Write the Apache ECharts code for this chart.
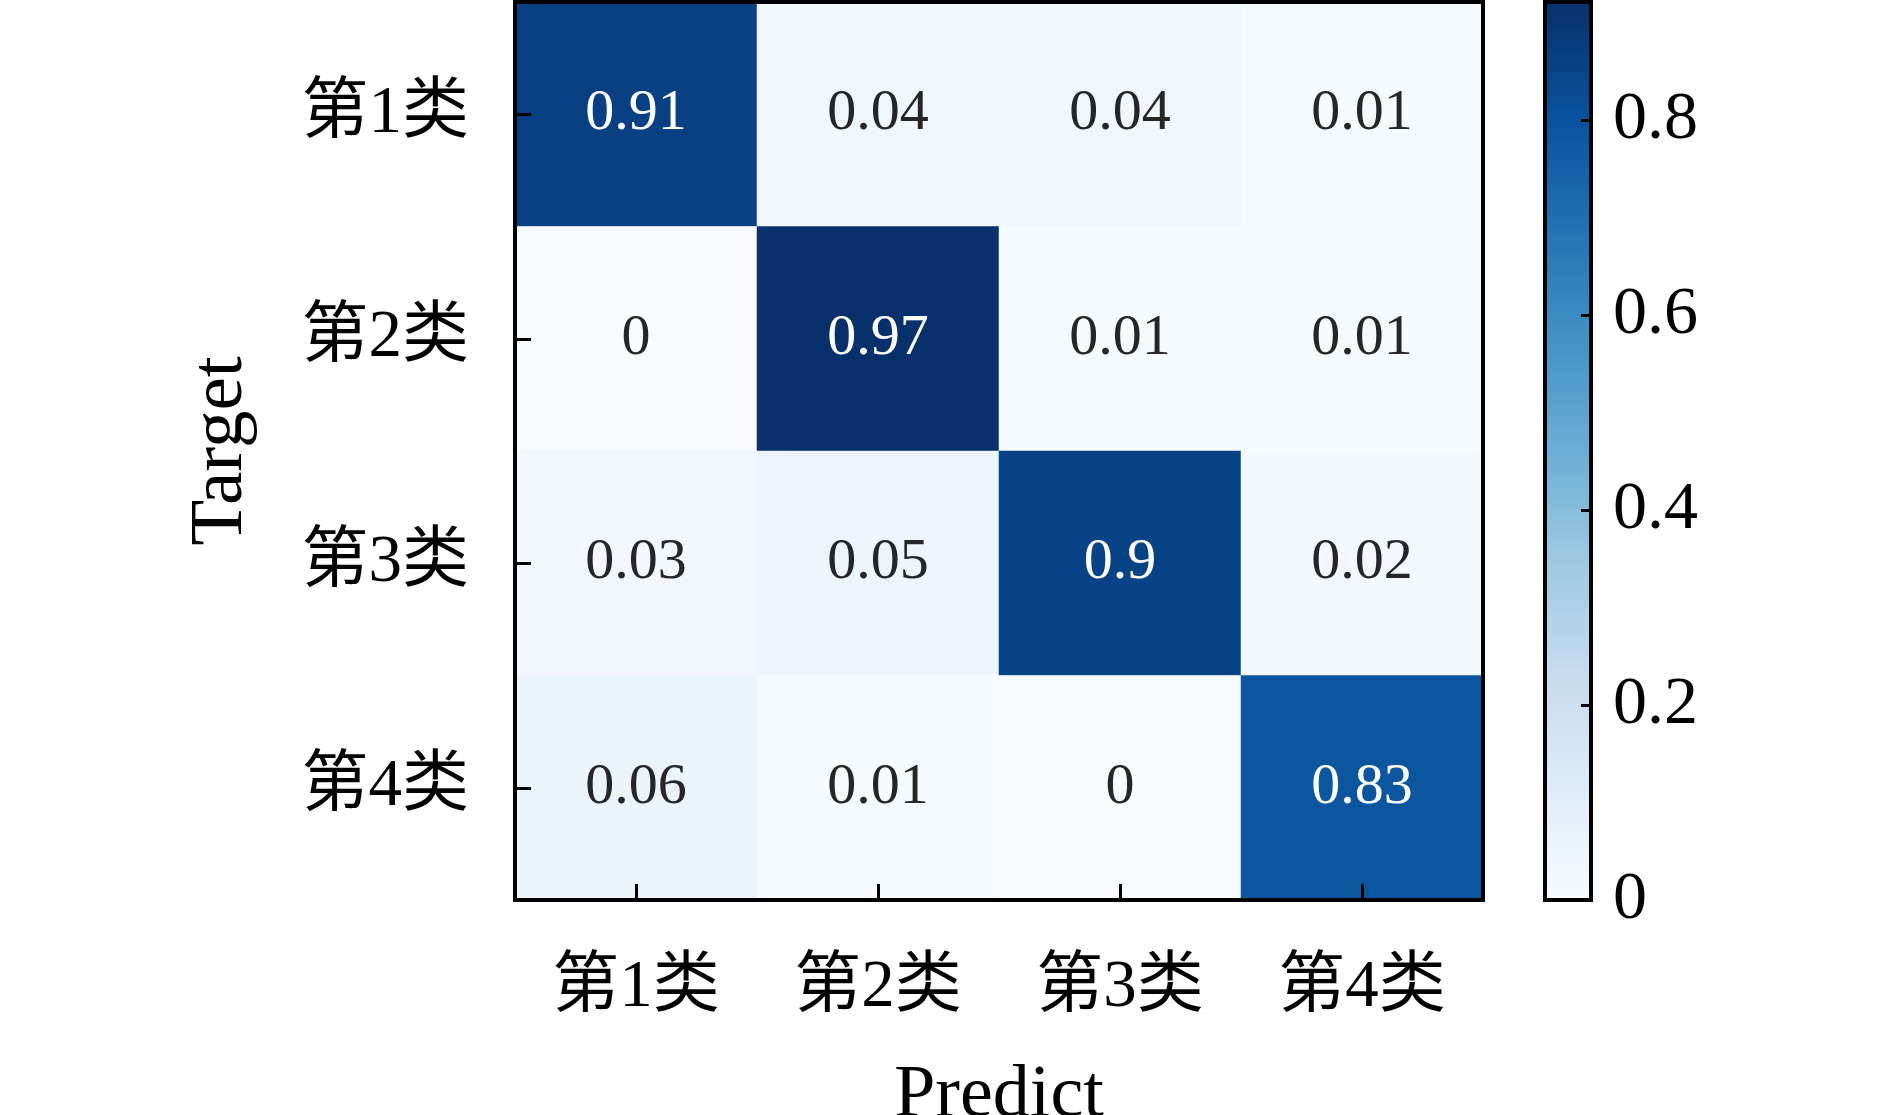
<!DOCTYPE html>
<html>
<head>
<meta charset="utf-8">
<title>混淆矩阵</title>
<script src="https://cdn.jsdelivr.net/npm/echarts@6/dist/echarts.min.js"></script>
<style>
  html, body { margin: 0; padding: 0; background: #fff; }
  #chart { width: 1890px; height: 1115px; }
</style>
</head>
<body>
<div id="chart"></div>
<script>
// 类别
const predictLabels = ['第1类', '第2类', '第3类', '第4类']
const targetLabels = ['第1类', '第2类', '第3类', '第4类']
// 每一行是一个 Target，每一列是一个 Predict
const matrix = [
  [0.91, 0.04, 0.04, 0.01],
  [0, 0.97, 0.01, 0.01],
  [0.03, 0.05, 0.9, 0.02],
  [0.06, 0.01, 0, 0.83]
]
const colorbarTicks = [0, 0.2, 0.4, 0.6, 0.8]
const blues = ['#f7fbff', '#deebf7', '#c6dbef', '#9ecae1', '#6baed6', '#4292c6', '#2171b5', '#08519c', '#08306b']

const serif = '"Liberation Serif", "Noto Sans CJK SC", serif'

let cells = []
matrix.forEach((row, r) => {
  row.forEach((v, c) => {
    cells.push({
      value: [c, r, v],
      label: { color: v > 0.5 ? '#ffffff' : '#262626' }
    })
  })
})

const tickStyle = { color: '#000', width: 3 }

let option = {
  animation: false,
  textStyle: { fontFamily: serif },
  grid: [
    {
      left: 515,
      top: 2,
      width: 968,
      height: 898,
      outerBoundsMode: 'none',
      containLabel: false,
      show: true,
      borderColor: '#000',
      borderWidth: 4,
      z: 5
    },
    {
      // 色条边框和刻度
      left: 1545,
      top: 2,
      width: 46,
      height: 898,
      outerBoundsMode: 'none',
      containLabel: false,
      show: true,
      borderColor: '#000',
      borderWidth: 4,
      z: 5
    }
  ],
  xAxis: [
    {
      type: 'category',
      gridIndex: 0,
      z: 10,
      data: predictLabels,
      name: 'Predict',
      nameLocation: 'middle',
      nameGap: 160,
      nameTextStyle: { fontSize: 74, color: '#000', fontFamily: serif },
      splitArea: { show: false },
      axisLine: { show: false },
      axisTick: { show: true, alignWithLabel: true, inside: true, length: 16, lineStyle: tickStyle },
      axisLabel: { fontSize: 67, color: '#000', margin: 55 }
    },
    {
      type: 'value',
      gridIndex: 1,
      show: false,
      min: 0,
      max: 1
    }
  ],
  yAxis: [
    {
      type: 'category',
      gridIndex: 0,
      z: 10,
      inverse: true,
      data: targetLabels,
      name: 'Target',
      nameLocation: 'middle',
      nameGap: 256,
      nameTextStyle: { fontSize: 75, color: '#000', fontFamily: serif },
      axisLine: { show: false },
      axisTick: { show: true, alignWithLabel: true, inside: true, length: 16, lineStyle: tickStyle },
      axisLabel: { fontSize: 67, color: '#000', margin: 46 }
    },
    {
      type: 'value',
      gridIndex: 1,
      z: 10,
      position: 'right',
      min: 0,
      max: 0.921,
      interval: 0.2,
      splitLine: { show: false },
      axisLine: { show: false, onZero: false },
      axisTick: { show: true, inside: true, length: 10, lineStyle: tickStyle },
      axisLabel: {
        fontSize: 68,
        color: '#000',
        margin: 22,
        formatter: v => (colorbarTicks.indexOf(Math.round(v * 10) / 10) >= 0 ? String(Math.round(v * 10) / 10) : '')
      }
    }
  ],
  visualMap: {
    type: 'continuous',
    seriesIndex: 0,
    dimension: 2,
    min: 0,
    max: 0.97,
    orient: 'vertical',
    left: 1545,
    top: 2,
    padding: 0,
    itemWidth: 46,
    itemHeight: 898,
    calculable: false,
    showLabel: false,
    text: null,
    hoverLink: false,
    inRange: { color: blues }
  },
  series: [
    {
      type: 'heatmap',
      xAxisIndex: 0,
      yAxisIndex: 0,
      data: cells,
      itemStyle: { borderWidth: 0 },
      label: {
        show: true,
        fontSize: 58,
        fontFamily: serif,
        formatter: p => String(p.value[2])
      },
      emphasis: { disabled: true }
    }
  ]
}

let chart = echarts.init(document.getElementById('chart'))
chart.setOption(option)
</script>
</body>
</html>
